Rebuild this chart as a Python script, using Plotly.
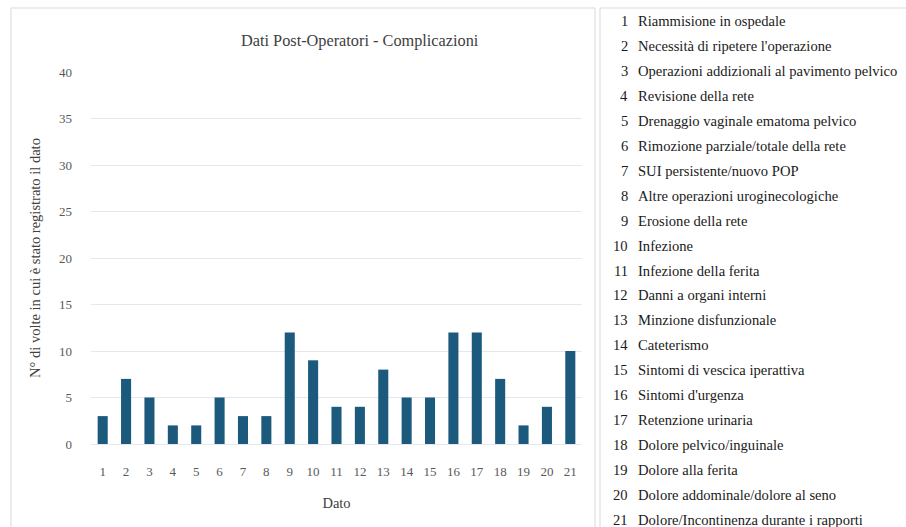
import plotly.graph_objects as go

W, H = 906, 527

categories = [str(i) for i in range(1, 22)]
values = [3, 7, 5, 2, 2, 5, 3, 3, 12, 9, 4, 4, 8, 5, 5, 12, 12, 7, 2, 4, 10]
legend_labels = [
    "Riammisione in ospedale",
    "Necessità di ripetere l'operazione",
    "Operazioni addizionali al pavimento pelvico",
    "Revisione della rete",
    "Drenaggio vaginale ematoma pelvico",
    "Rimozione parziale/totale della rete",
    "SUI persistente/nuovo POP",
    "Altre operazioni uroginecologiche",
    "Erosione della rete",
    "Infezione",
    "Infezione della ferita",
    "Danni a organi interni",
    "Minzione disfunzionale",
    "Cateterismo",
    "Sintomi di vescica iperattiva",
    "Sintomi d'urgenza",
    "Retenzione urinaria",
    "Dolore pelvico/inguinale",
    "Dolore alla ferita",
    "Dolore addominale/dolore al seno",
    "Dolore/Incontinenza durante i rapporti",
]
y_ticks = [0, 5, 10, 15, 20, 25, 30, 35, 40]

FONT = "Liberation Serif"


def px(x):
    return x / W


def py(y):
    return 1 - y / H


fig = go.Figure()
fig.add_trace(go.Bar(
    x=categories,
    y=values,
    marker=dict(color="#1b5a7c", line=dict(width=0)),
    hoverinfo="x+y",
))

shapes = [
    # chart frame
    dict(type="rect", xref="paper", yref="paper",
         x0=px(11), x1=px(595), y0=py(540), y1=py(8),
         line=dict(color="#d9d9d9", width=1), fillcolor="rgba(0,0,0,0)", layer="below"),
    # list frame
    dict(type="rect", xref="paper", yref="paper",
         x0=px(600), x1=px(920), y0=py(540), y1=py(8),
         line=dict(color="#d9d9d9", width=1), fillcolor="rgba(0,0,0,0)", layer="below"),
]

annotations = [
    dict(text="Dati Post-Operatori - Complicazioni", xref="paper", yref="paper",
         x=px(360), y=py(41), xanchor="center", yanchor="middle", showarrow=False,
         font=dict(family=FONT, size=16.3, color="#404040")),
]

# numbered list of category descriptions
row0, step = 21, 24.95
for i, lab in enumerate(legend_labels):
    yy = py(row0 + i * step)
    annotations.append(dict(text=str(i + 1), xref="paper", yref="paper",
                            x=px(630), y=yy, xanchor="right", yanchor="middle",
                            showarrow=False, font=dict(family=FONT, size=14.6, color="#1a1a1a")))
    annotations.append(dict(text=lab, xref="paper", yref="paper",
                            x=px(636), y=yy, xanchor="left", yanchor="middle",
                            showarrow=False, font=dict(family=FONT, size=14.6, color="#1a1a1a")))

fig.update_layout(
    width=W, height=H,
    margin=dict(l=0, r=0, t=0, b=0, autoexpand=False),
    paper_bgcolor="white", plot_bgcolor="white",
    showlegend=False,
    bargap=0.57,
    font=dict(family=FONT, color="#595959"),
    shapes=shapes,
    annotations=annotations,
    xaxis=dict(
        domain=[px(91), px(582)],
        type="category",
        range=[-0.5, 20.5],
        automargin=False,
        showgrid=False, showline=False, zeroline=False,
        ticks="", ticklabelstandoff=18,
        tickfont=dict(family=FONT, size=13, color="#595959"),
        title=dict(text="Dato", font=dict(family=FONT, size=14.5, color="#404040"), standoff=19),
    ),
    yaxis=dict(
        domain=[py(444), py(72)],
        range=[0, 40],
        tickvals=y_ticks,
        automargin=False,
        showgrid=True, gridcolor="#e3e8ee", gridwidth=1,
        zeroline=True, zerolinecolor="#e3e8ee", zerolinewidth=1,
        showline=False, ticks="", ticklabelstandoff=18,
        tickfont=dict(family=FONT, size=13, color="#595959"),
        title=dict(text="N° di volte in cui è stato registrato il dato",
                   font=dict(family=FONT, size=14.5, color="#404040"), standoff=14),
    ),
)

fig.write_html("out.html")
